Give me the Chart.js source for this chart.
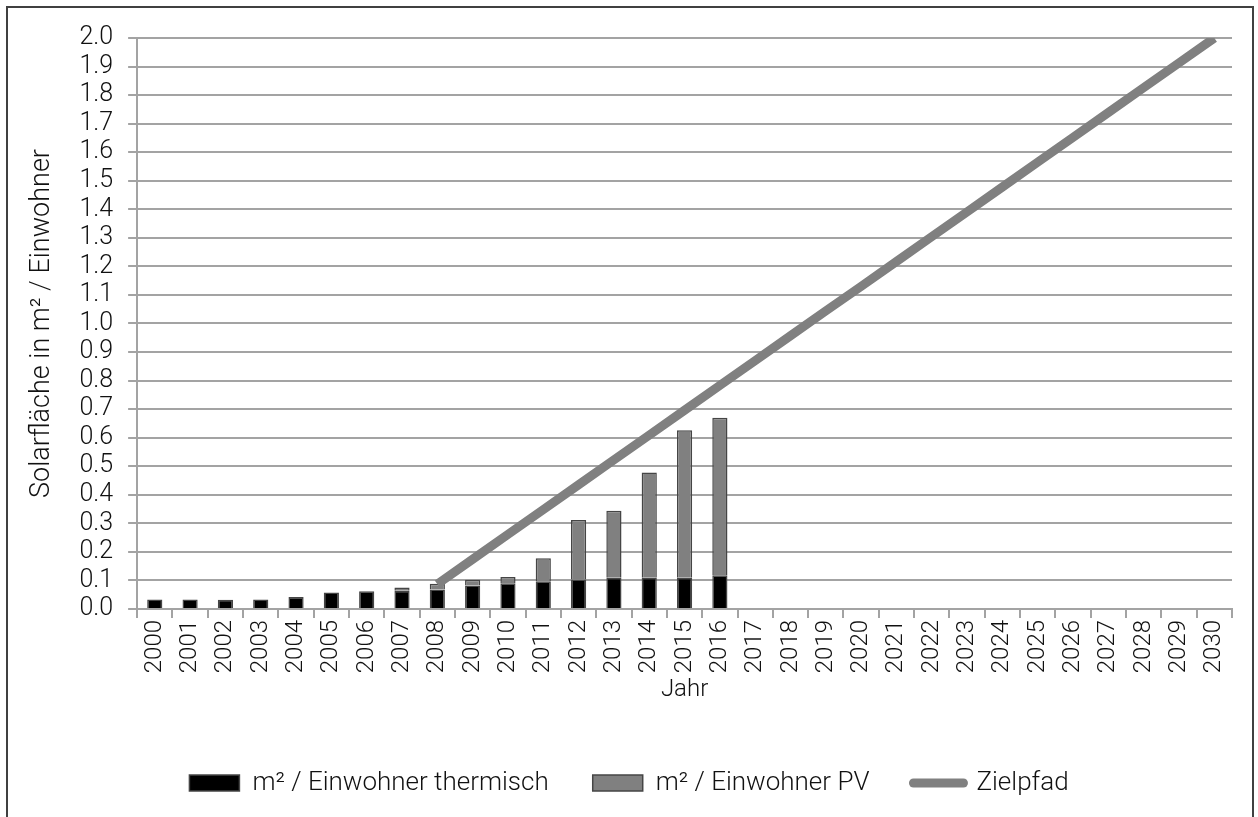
<!DOCTYPE html>
<html>
<head>
<meta charset="utf-8">
<script src="https://cdn.jsdelivr.net/npm/chart.js@4/dist/chart.umd.min.js"></script>
<style>
  html, body { margin: 0; padding: 0; background: #fff; overflow: hidden; }
  #frame {
    position: absolute; left: 6px; top: 6px;
    width: 1244px; height: 830px;
    border: 2px solid #404040;
  }
  #wrap { position: absolute; left: 0; top: 0; width: 1244px; height: 809px; }
</style>
</head>
<body>
<div id="frame"><div id="wrap"><canvas id="chart"></canvas></div></div>
<script>
// Solarfläche pro Einwohner, 2000–2030
const years = [
  "2000", "2001", "2002", "2003", "2004", "2005", "2006", "2007", "2008", "2009",
  "2010", "2011", "2012", "2013", "2014", "2015", "2016", "2017", "2018", "2019",
  "2020", "2021", "2022", "2023", "2024", "2025", "2026", "2027", "2028", "2029", "2030",
];
const thermisch = [
  0.033, 0.033, 0.032, 0.033, 0.042, 0.058, 0.062, 0.064, 0.068, 0.082,
  0.090, 0.097, 0.103, 0.109, 0.109, 0.109, 0.118,
];
const pv = [
  null, null, null, null, null, null, null, 0.011, 0.020, 0.020,
  0.022, 0.081, 0.209, 0.235, 0.369, 0.517, 0.552,
];
const zielpfad = [
  null, null, null, null, null, null, null, null, 0.087, 0.174,
  0.261, 0.348, 0.435, 0.522, 0.609, 0.696, 0.783, 0.870, 0.957, 1.044,
  1.130, 1.217, 1.304, 1.391, 1.478, 1.565, 1.652, 1.739, 1.826, 1.913, 2.0,
];
const yTitle = "Solarfläche in m² / Einwohner";
const xTitle = "Jahr";

const FONT = "Roboto, 'Liberation Sans', Arial, sans-serif";
const gridGrey = "#a3a3a3";
const textCol = "#111";

(() => {
  const ctx = document.getElementById("chart");
  const f = (size) => ({ family: FONT, size, weight: "300" });

  new Chart(ctx, {
    data: {
      labels: years,
      datasets: [
        {
          type: "bar",
          label: "m² / Einwohner thermisch",
          data: thermisch,
          backgroundColor: "#000000",
          borderColor: "#454545",
          borderWidth: 1.5,
          stack: "solar",
        },
        {
          type: "bar",
          label: "m² / Einwohner PV",
          data: pv,
          backgroundColor: "#808080",
          borderColor: "#454545",
          borderWidth: 1.5,
          stack: "solar",
        },
        {
          type: "line",
          label: "Zielpfad",
          data: zielpfad,
          borderColor: "#808080",
          backgroundColor: "#808080",
          borderWidth: 9,
          pointRadius: 0,
          tension: 0,
          spanGaps: true,
          stack: "ziel",
          order: -1,
        },
      ],
    },
    options: {
      responsive: true,
      maintainAspectRatio: false,
      animation: false,
      datasets: { bar: { barPercentage: 0.43, categoryPercentage: 1.0 } },
      layout: { padding: { left: 18, right: 20, top: 12, bottom: 11 } },
      plugins: {
        tooltip: { enabled: false },
        legend: {
          position: "bottom",
          labels: {
            color: textCol,
            font: f(26),
            usePointStyle: true,
            pointStyleWidth: 50,
            boxHeight: 16,
            padding: 44,
            sort: (a, b) => a.datasetIndex - b.datasetIndex,
            generateLabels(chart) {
              const items = Chart.defaults.plugins.legend.labels.generateLabels(chart);
              items.forEach((it) => {
                const ds = chart.data.datasets[it.datasetIndex];
                if (ds.type === "line") {
                  it.pointStyle = "line";
                  it.lineWidth = 9;
                  it.lineCap = "round";
                  it.strokeStyle = "#808080";
                } else {
                  it.pointStyle = "rect";
                  it.lineWidth = 1.5;
                }
              });
              return items;
            },
          },
        },
      },
      scales: {
        x: {
          stacked: true,
          offset: true,
          border: { color: gridGrey, width: 2 },
          grid: {
            display: true,
            drawOnChartArea: false,
            drawTicks: true,
            tickLength: 9,
            color: gridGrey,
            lineWidth: 2,
            offset: true,
          },
          ticks: {
            color: textCol,
            font: f(24),
            maxRotation: 90,
            minRotation: 90,
            autoSkip: false,
            padding: 2,
          },
          title: {
            display: true,
            text: xTitle,
            color: textCol,
            font: f(24),
            padding: { top: 0, bottom: 22 },
          },
        },
        y: {
          stacked: true,
          min: 0,
          max: 2.0,
          border: { color: gridGrey, width: 2 },
          grid: {
            color: gridGrey,
            lineWidth: 2,
            tickLength: 9,
          },
          ticks: {
            stepSize: 0.1,
            autoSkip: false,
            color: textCol,
            font: f(25),
            padding: 15,
            callback: (v) => Number(v).toFixed(1),
          },
          title: {
            display: true,
            text: yTitle,
            color: textCol,
            font: f(27),
            padding: { top: 0, bottom: 6 },
          },
        },
      },
    },
  });
})();
</script>
</body>
</html>
